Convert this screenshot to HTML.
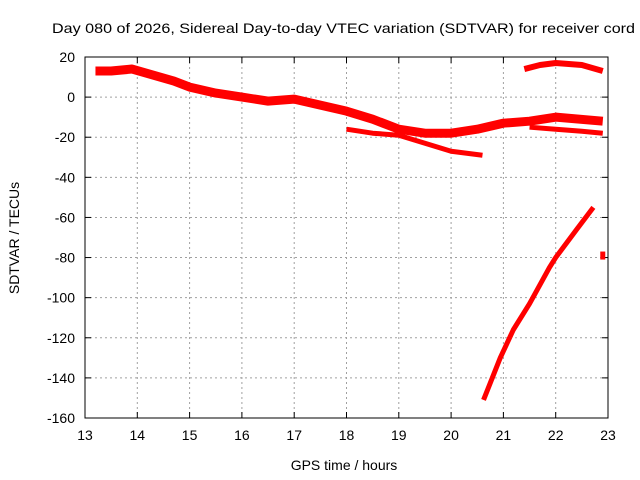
<!DOCTYPE html>
<html><head><meta charset="utf-8"><style>
body{margin:0;background:#fff}
svg{display:block;font-family:"Liberation Sans",sans-serif}
</style></head><body>
<svg id="c" width="640" height="480">
<text x="52" y="33" font-size="14" textLength="583" lengthAdjust="spacingAndGlyphs">Day 080 of 2026, Sidereal Day-to-day VTEC variation (SDTVAR) for receiver cord</text>
<text x="344" y="470" font-size="14" text-anchor="middle">GPS time / hours</text>
<text transform="translate(19,238) rotate(-90)" font-size="14" text-anchor="middle">SDTVAR / TECUs</text>
<g id="grid"></g>
<g id="axes"></g>
<g id="series"></g>
</svg>
<script>
const xTicks=[13,14,15,16,17,18,19,20,21,22,23];
const yTicks=[20,0,-20,-40,-60,-80,-100,-120,-140,-160];
const mainHours=[13.2,13.5,13.9,14.3,14.7,15.0,15.5,16.0,16.5,17.0,17.5,18.0,18.5,19.0,19.5,20.0,20.5,21.0,21.5,22.0,22.9];
const mainValues=[13,13,14,11,8,5,2,0,-2,-1,-4,-7,-11,-16,-18,-18,-16,-13,-12,-10,-12];
const lowHours=[18.0,18.5,19.0,19.5,20.0,20.6];
const lowValues=[-16,-18,-19,-23,-27,-29];
const trailHours=[21.5,22.0,22.5,22.9];
const trailValues=[-15,-16,-17,-18];
const arcHours=[21.4,21.7,22.0,22.5,22.9];
const arcValues=[14,16,17,16,13];
const steepHours=[20.62,20.94,21.19,21.5,21.88,22.0,22.4,22.72];
const steepValues=[-151,-130,-116,-103,-85,-80,-66,-55];
const dotHours=[22.9,22.9];
const dotValues=[-77,-81];
const X0=85,X1=608,Y0=57,Y1=418;
const x=h=>X0+(h-13)/(23-13)*(X1-X0);
const y=v=>Y0+(20-v)/(20+160)*(Y1-Y0);
const NS='http://www.w3.org/2000/svg';
function mk(t,p,parent){const e=document.createElementNS(NS,t);for(const k in p)e.setAttribute(k,p[k]);parent.appendChild(e);return e;}
const G=document.getElementById('grid'),A=document.getElementById('axes'),S=document.getElementById('series');
xTicks.forEach(t=>{
 if(t>13&&t<23){const l=mk('line',{x1:x(t),x2:x(t),y1:Y0,y2:Y1,stroke:'#a0a0a0','stroke-dasharray':'2,3'},G);
 }
 mk('line',{x1:x(t),x2:x(t),y1:Y1,y2:Y1-6,stroke:'#000'},A);
 mk('line',{x1:x(t),x2:x(t),y1:Y0,y2:Y0+6,stroke:'#000'},A);
 const tx=mk('text',{x:x(t),y:Y1+22,'font-size':14,'text-anchor':'middle'},A);tx.textContent=t;
 
});
yTicks.forEach(t=>{
 if(t<20&&t>-160){const l=mk('line',{x1:X0,x2:X1,y1:y(t),y2:y(t),stroke:'#a0a0a0','stroke-dasharray':'2,3'},G);
 }
 mk('line',{x1:X0,x2:X0+6,y1:y(t),y2:y(t),stroke:'#000'},A);
 mk('line',{x1:X1,x2:X1-6,y1:y(t),y2:y(t),stroke:'#000'},A);
 const tx=mk('text',{x:X0-10,y:y(t)+5,'font-size':14,'text-anchor':'end'},A);tx.textContent=t;
 
});
const fr=mk('rect',{x:X0,y:Y0,width:X1-X0,height:Y1-Y0,fill:'none',stroke:'#000'},A);

function line(hs,vs,w,name){
 const p=mk('polyline',{points:hs.map((h,i)=>x(h)+','+y(vs[i])).join(' '),fill:'none',stroke:'#ff0000','stroke-width':w,'stroke-linejoin':'round'},S);
 
}
line(mainHours,mainValues,9,'series-main-band');
line(lowHours,lowValues,5,'series-lower-branch');
line(trailHours,trailValues,5,'series-trailing-branch');
line(arcHours,arcValues,6,'series-upper-arc');
line(steepHours,steepValues,5,'series-steep-rise');
line(dotHours,dotValues,5,'series-isolated-points');
</script>
</body></html>
